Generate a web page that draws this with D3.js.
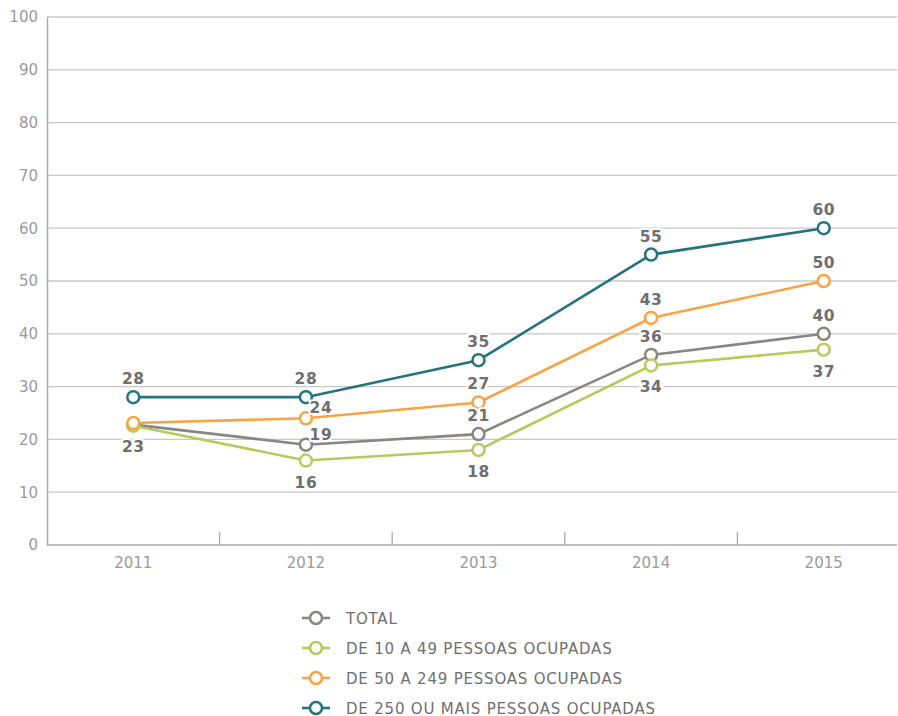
<!DOCTYPE html>
<html><head><meta charset="utf-8">
<script src="https://cdn.jsdelivr.net/npm/d3@7"></script>
<style>body{margin:0;background:#fff}svg{display:block}text{font-family:"DejaVu Sans",sans-serif}</style>
</head><body><svg id="c" width="898" height="716"></svg>
<script>
const years = ["2011","2012","2013","2014","2015"];
const yTicks = [0,10,20,30,40,50,60,70,80,90,100];
const seriesNames = ["TOTAL","DE 10 A 49 PESSOAS OCUPADAS","DE 50 A 249 PESSOAS OCUPADAS","DE 250 OU MAIS PESSOAS OCUPADAS"];
const colors = ["#8a8580","#b6cb5c","#f8a444","#25737d"];
const totalVals = [22.8,19,21,36,40];
const smallVals = [22.6,16,18,34,37];
const mediumVals = [23.1,24,27,43,50];
const largeVals = [28,28,35,55,60];
const labelText = [["23","19","21","36","40"],["","16","18","34","37"],["","24","27","43","50"],["28","28","35","55","60"]];
// label placement: a=above, b=below, r=right-above
const labelPos = [["b","r","a","a","a"],["","b","b","b","b"],["","r","a","a","a"],["a","a","a","a","a"]];
const allVals = [totalVals, smallVals, mediumVals, largeVals];

const svg = d3.select("#c");
const mLeft = 47, mRight = 897, mTop = 17, mBottom = 545;
const x = d3.scaleBand().domain(years).range([mLeft, mLeft + 5*172.6]);
const y = d3.scaleLinear().domain([0,100]).range([mBottom, mTop]);

// gridlines
svg.append("g").selectAll("line").data(yTicks.filter(d=>d>0)).join("line")
  .attr("x1", mLeft).attr("x2", mRight).attr("y1", d=>y(d)).attr("y2", d=>y(d))
  .attr("stroke","#c8c8c8").attr("stroke-width",1.3);
// y axis
const ya = svg.append("g").attr("transform",`translate(${mLeft},0)`)
  .call(d3.axisLeft(y).tickValues(yTicks).tickSize(0).tickPadding(9));
ya.select(".domain").attr("stroke","#aaaaaf").attr("stroke-width",1.5);
ya.selectAll("text").attr("font-size",15).attr("fill","#9a9a9a").attr("font-family","DejaVu Sans");
// x axis
const xa = svg.append("g").attr("transform",`translate(0,${mBottom})`)
  .call(d3.axisBottom(x).tickSize(0).tickPadding(12));
xa.select(".domain").remove();
xa.append("line").attr("x1",mLeft).attr("x2",mRight).attr("stroke","#aaaaaf").attr("stroke-width",1.5);
xa.selectAll("text").attr("font-size",15).attr("fill","#9a9a9a").attr("font-family","DejaVu Sans");
xa.selectAll(".sep").data(years.slice(1)).join("line").attr("class","sep")
  .attr("x1",d=>x(d)).attr("x2",d=>x(d)).attr("y1",0).attr("y2",-13)
  .attr("stroke","#aaaaaf").attr("stroke-width",1.3);

const cx = d => x(d) + x.bandwidth()/2;
const line = d3.line().x((d,i)=>cx(years[i])).y(d=>y(d));
const drawOrder = [3,0,1,2];
drawOrder.forEach(s=>{
  const g = svg.append("g");
  g.append("path").datum(allVals[s]).attr("d",line).attr("fill","none")
    .attr("stroke",colors[s]).attr("stroke-width",2.6);
  g.selectAll("circle").data(allVals[s]).join("circle")
    .attr("cx",(d,i)=>cx(years[i])).attr("cy",d=>y(d)).attr("r",6)
    .attr("fill","#fff").attr("stroke",colors[s]).attr("stroke-width",2.5);
});
// labels
const lg = svg.append("g");
allVals.forEach((vals,s)=>{
  vals.forEach((v,i)=>{
    const t = labelText[s][i]; if(!t) return;
    const p = labelPos[s][i];
    let lx = cx(years[i]), ly = y(v);
    if(p==="a") ly -= 13;
    else if(p==="b") ly += 27;
    else { lx += 15; ly -= 5; }
    lg.append("text").attr("x",lx).attr("y",ly).attr("text-anchor","middle")
      .attr("font-size",15.5).attr("font-weight","bold").attr("fill","#6f6f6f")
      .attr("stroke","#fff").attr("stroke-width",4).attr("paint-order","stroke")
      .attr("letter-spacing",0.5).text(t);
  });
});
// legend
const leg = svg.append("g");
seriesNames.forEach((n,i)=>{
  const ly = 618 + i*30;
  leg.append("line").attr("x1",302).attr("x2",330).attr("y1",ly).attr("y2",ly)
    .attr("stroke",colors[i]).attr("stroke-width",2.6);
  leg.append("circle").attr("cx",316).attr("cy",ly).attr("r",6)
    .attr("fill","#fff").attr("stroke",colors[i]).attr("stroke-width",2.5);
  leg.append("text").attr("x",346).attr("y",ly+5.5).attr("font-size",15)
    .attr("letter-spacing",0.8).attr("fill","#6f6f6f").text(n);
});
</script></body></html>
